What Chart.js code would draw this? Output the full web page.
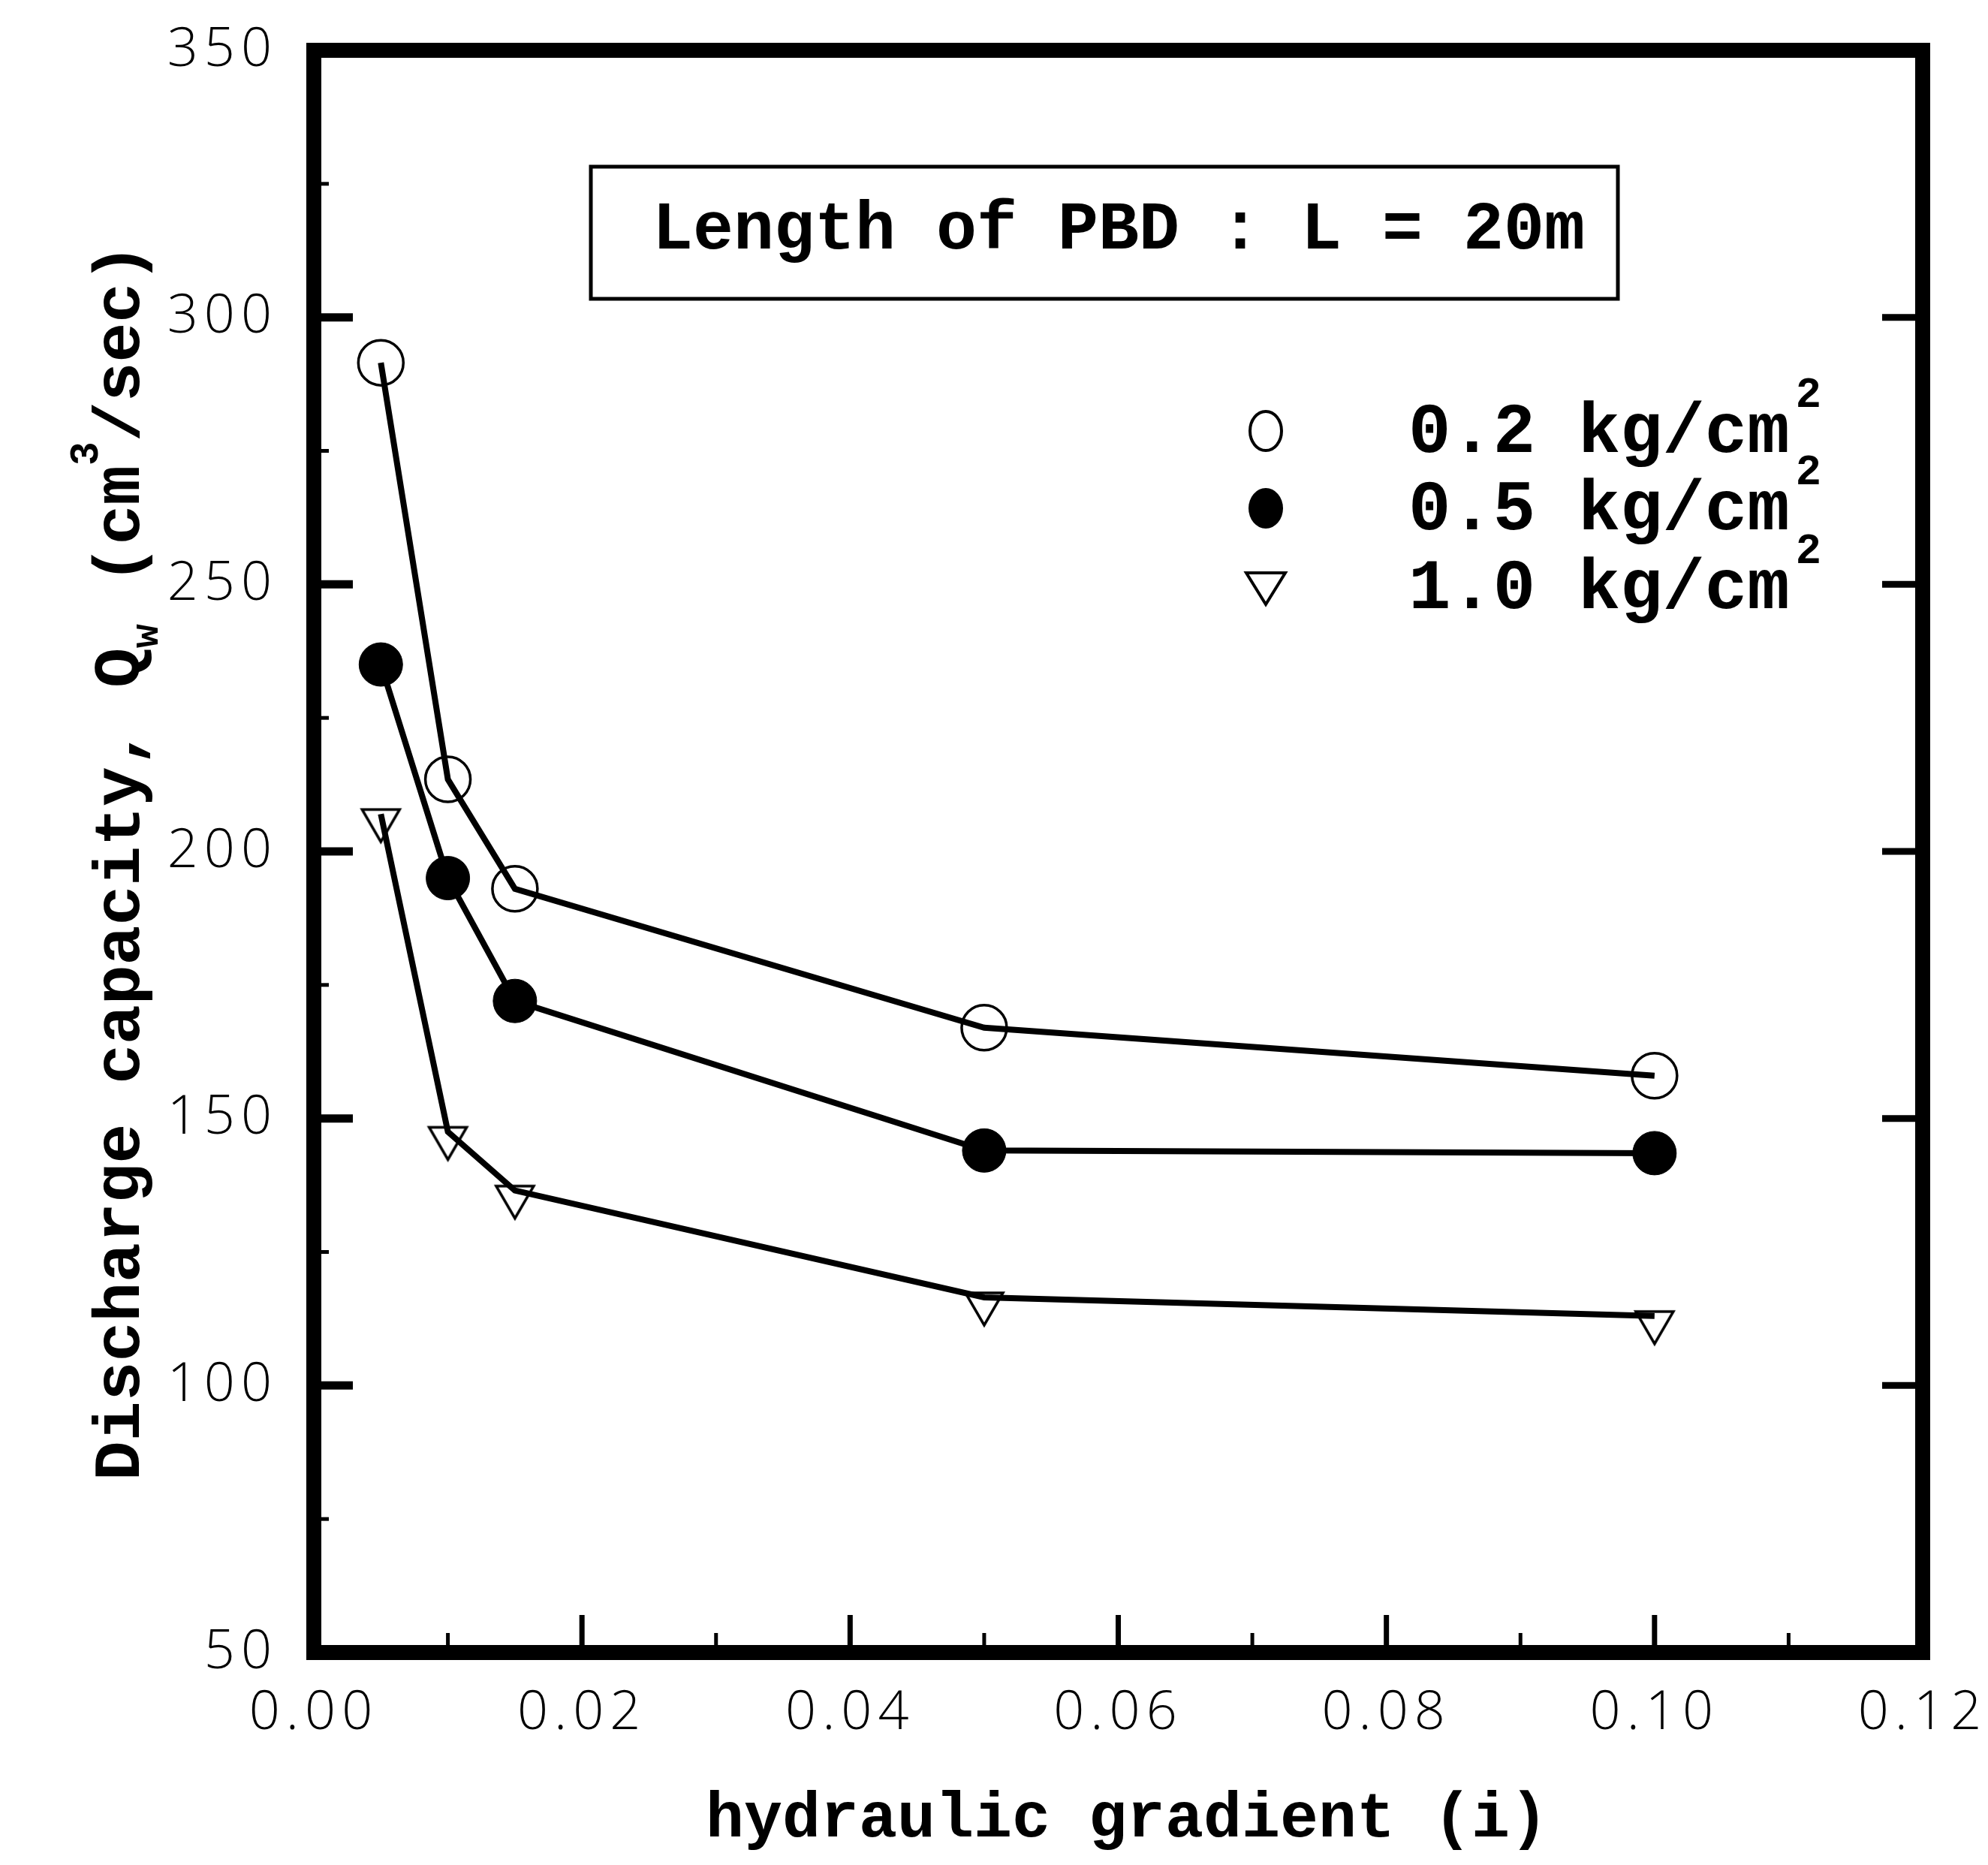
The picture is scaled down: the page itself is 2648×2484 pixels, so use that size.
<!DOCTYPE html>
<html>
<head>
<meta charset="utf-8">
<script src="https://cdn.jsdelivr.net/npm/chart.js@4.4.1/dist/chart.umd.min.js"></script>
<style>
  html, body { margin: 0; padding: 0; background: #fff; }
  #wrap { width: 2648px; height: 2484px; }
</style>
</head>
<body>
<div id="wrap"><canvas id="chart" width="2648" height="2484"></canvas></div>
<script>
// data
const gradient = [0.005, 0.01, 0.015, 0.05, 0.10];
const discharge02 = [291.5, 213.5, 193, 167, 158];
const discharge05 = [235, 195, 172, 144, 143.5];
const discharge10 = [207, 147.5, 136.5, 116.5, 113];

const seriesLabels = ['0.2 kg/cm', '0.5 kg/cm', '1.0 kg/cm'];
const boxTitle = 'Length of PBD : L = 20m';
const xTitle = 'hydraulic gradient (i)';

const toPoints = (xs, ys) => xs.map((x, i) => ({ x: x, y: ys[i] }));

const MONO = '"Liberation Mono", "DejaVu Sans Mono", monospace';
const TICKFONT = '"Open Sans", "Liberation Sans", sans-serif';

// down triangle that hangs below its data point, like the hand plotted one
const triMarker = document.createElement('canvas');
triMarker.width = 64;
triMarker.height = 104;
(function () {
  const c = triMarker.getContext('2d');
  c.strokeStyle = '#000';
  c.lineWidth = 3.5;
  c.beginPath();
  c.moveTo(7, 46);
  c.lineTo(57, 46);
  c.lineTo(32, 89);
  c.closePath();
  c.stroke();
})();

// wide spaced tick digits
const spacing = {
  id: 'spacing',
  beforeDraw(chart) { chart.ctx.letterSpacing = '8px'; },
  beforeDatasetsDraw(chart) { chart.ctx.letterSpacing = '0px'; }
};

// frame + inward ticks
const frameTicks = {
  id: 'frameTicks',
  beforeDatasetsDraw(chart) {
    const { ctx, chartArea: a, scales } = chart;
    const x = scales.x, y = scales.y;
    ctx.save();
    ctx.strokeStyle = '#000';
    ctx.lineCap = 'butt';

    for (let i = 1; i < 12; i++) {
      const px = x.getPixelForValue(i * 0.01);
      const major = i % 2 === 0;
      ctx.lineWidth = major ? 7 : 5;
      ctx.beginPath();
      ctx.moveTo(px, a.bottom);
      ctx.lineTo(px, a.bottom - (major ? 50 : 26));
      ctx.stroke();
    }
    for (let v = 75; v < 350; v += 25) {
      const py = y.getPixelForValue(v);
      const major = v % 50 === 0;
      ctx.lineWidth = major ? 11 : 5;
      ctx.beginPath();
      ctx.moveTo(a.left, py);
      ctx.lineTo(a.left + (major ? 52 : 20), py);
      ctx.stroke();
      if (major) {
        ctx.lineWidth = 9;
        ctx.beginPath();
        ctx.moveTo(a.right, py);
        ctx.lineTo(a.right - 54, py);
        ctx.stroke();
      }
    }

    ctx.lineWidth = 20;
    ctx.lineJoin = 'miter';
    ctx.strokeRect(a.left, a.top, a.right - a.left, a.bottom - a.top);
    ctx.restore();
  }
};

// titles with sub/superscripts, boxed label, legend
const annotations = {
  id: 'annotations',
  afterDraw(chart) {
    const ctx = chart.ctx;
    ctx.save();
    ctx.letterSpacing = '0px';
    ctx.fillStyle = '#000';
    ctx.strokeStyle = '#000';

    // y axis title
    const S = 88;
    const big = 'bold ' + S + 'px ' + MONO;
    const small = 'bold ' + Math.round(S * 0.6) + 'px ' + MONO;
    const parts = [
      { t: 'Discharge capacity, Q', f: big, dy: 0 },
      { t: 'w', f: small, dy: 0.28 * S },
      { t: ' (cm', f: big, dy: 0 },
      { t: '3', f: small, dy: -0.62 * S },
      { t: '/sec)', f: big, dy: 0 }
    ];
    let total = 0;
    parts.forEach(p => { ctx.font = p.f; p.w = ctx.measureText(p.t).width; total += p.w; });
    ctx.translate(156, 1148);
    ctx.rotate(-Math.PI / 2);
    ctx.textBaseline = 'alphabetic';
    ctx.textAlign = 'left';
    let cx = -total / 2;
    parts.forEach(p => {
      ctx.font = p.f;
      ctx.fillText(p.t, cx, 0.33 * S + p.dy);
      cx += p.w;
    });
    ctx.setTransform(1, 0, 0, 1, 0, 0);

    // x axis title
    ctx.font = 'bold 85px ' + MONO;
    ctx.textAlign = 'center';
    ctx.fillText(xTitle, 1501, 2446);

    // boxed label
    ctx.lineWidth = 5;
    ctx.strokeRect(787, 222, 1368, 176);
    ctx.font = 'bold 90px ' + MONO;
    ctx.fillText(boxTitle, 1490, 331);

    // legend
    const rows = [574, 677, 782];
    const mx = 1686;
    ctx.lineWidth = 4;
    ctx.beginPath();
    ctx.ellipse(mx, rows[0], 21, 26, 0, 0, Math.PI * 2);
    ctx.stroke();
    ctx.beginPath();
    ctx.ellipse(mx, rows[1], 23, 27, 0, 0, Math.PI * 2);
    ctx.fill();
    ctx.beginPath();
    ctx.moveTo(mx - 26, rows[2] - 19);
    ctx.lineTo(mx + 26, rows[2] - 19);
    ctx.lineTo(mx, rows[2] + 23);
    ctx.closePath();
    ctx.stroke();

    ctx.textAlign = 'left';
    seriesLabels.forEach((lab, i) => {
      ctx.font = 'bold 94px ' + MONO;
      ctx.fillText(lab, 1876, rows[i] + 28);
      const w = ctx.measureText(lab).width;
      ctx.font = 'bold 57px ' + MONO;
      ctx.fillText('2', 1876 + w + 8, rows[i] - 32);
    });
    ctx.restore();
  }
};

// keep tick labels from pushing the plot area around
const noEdgePadding = scale => {
  scale.paddingLeft = 0;
  scale.paddingRight = 0;
  scale.paddingTop = 0;
  scale.paddingBottom = 0;
};

const ctx = document.getElementById('chart').getContext('2d');
new Chart(ctx, {
  type: 'scatter',
  data: {
    datasets: [
      {
        label: seriesLabels[0],
        data: toPoints(gradient, discharge02),
        showLine: true,
        borderColor: '#000',
        borderWidth: 8,
        pointStyle: 'circle',
        pointRadius: 30,
        pointBorderWidth: 3.5,
        pointBackgroundColor: 'rgba(0,0,0,0)',
        pointBorderColor: '#000'
      },
      {
        label: seriesLabels[1],
        data: toPoints(gradient, discharge05),
        showLine: true,
        borderColor: '#000',
        borderWidth: 8,
        pointStyle: 'circle',
        pointRadius: 29,
        pointBorderWidth: 1,
        pointBackgroundColor: '#000',
        pointBorderColor: '#000'
      },
      {
        label: seriesLabels[2],
        data: toPoints(gradient, discharge10),
        showLine: true,
        borderColor: '#000',
        borderWidth: 8,
        pointStyle: triMarker,
        pointRadius: 30
      }
    ]
  },
  options: {
    responsive: false,
    animation: false,
    devicePixelRatio: 1,
    layout: { padding: { left: 0, right: 87, top: 67, bottom: 0 } },
    plugins: {
      legend: { display: false },
      tooltip: { enabled: false }
    },
    scales: {
      x: {
        type: 'linear',
        min: 0,
        max: 0.12,
        grid: { display: false, drawTicks: false },
        border: { display: false },
        ticks: {
          stepSize: 0.02,
          padding: 38,
          color: '#000',
          font: { family: TICKFONT, size: 72, weight: '300' },
          callback: v => v.toFixed(2)
        },
        afterFit(scale) { scale.height = 283; noEdgePadding(scale); }
      },
      y: {
        type: 'linear',
        min: 50,
        max: 350,
        grid: { display: false, drawTicks: false },
        border: { display: false },
        ticks: {
          stepSize: 50,
          padding: 48,
          color: '#000',
          font: { family: TICKFONT, size: 72, weight: '300' }
        },
        afterFit(scale) { scale.width = 418; noEdgePadding(scale); }
      }
    }
  },
  plugins: [spacing, frameTicks, annotations]
});
</script>
</body>
</html>
